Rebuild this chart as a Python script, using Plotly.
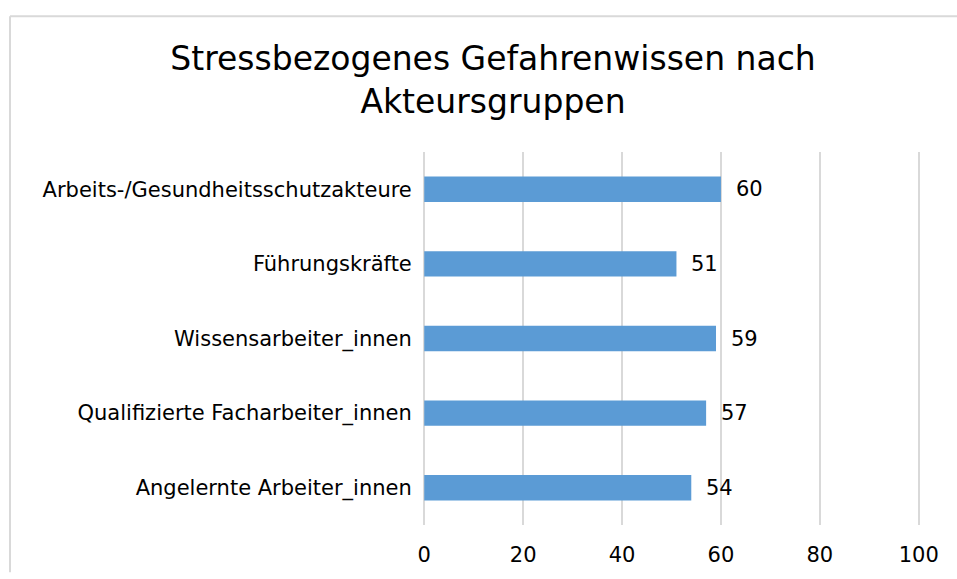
import plotly.graph_objects as go

categories = [
    "Angelernte Arbeiter_innen",
    "Qualifizierte Facharbeiter_innen",
    "Wissensarbeiter_innen",
    "Führungskräfte",
    "Arbeits-/Gesundheitsschutzakteure",
]
values = [54, 57, 59, 51, 60]
x_ticks = [0, 20, 40, 60, 80, 100]
title_text = "Stressbezogenes Gefahrenwissen nach<br>Akteursgruppen"

W, H = 957, 579
ml, mr, mt, mb = 423, 37, 152, 48
pw, ph = W - ml - mr, H - mt - mb
FONT = "DejaVu Sans, Liberation Sans, Arial"

fig = go.Figure()
fig.add_trace(go.Bar(
    x=values, y=categories, orientation="h",
    marker=dict(color="#5B9BD5", line=dict(width=0)),
    width=0.34, hoverinfo="x+y",
))

for c, v in zip(categories, values):
    fig.add_annotation(x=v, y=c, text=str(v), showarrow=False,
                       xanchor="left", xshift=13,
                       font=dict(family=FONT, size=21, color="#000000"))

def px_x(p):
    return (p - ml) / pw

def px_y(p):
    return (H - mb - p) / ph

# chart-area frame (top and left edges visible in the crop)
border = dict(color="#d9d9d9", width=2)
fig.add_shape(type="line", xref="paper", yref="paper",
              x0=px_x(10), x1=px_x(W), y0=px_y(14), y1=px_y(14), line=border, layer="below")
fig.add_shape(type="line", xref="paper", yref="paper",
              x0=px_x(10), x1=px_x(10), y0=px_y(14), y1=px_y(H), line=border, layer="below")

fig.update_layout(
    width=W, height=H,
    margin=dict(l=ml, r=mr, t=mt, b=mb),
    paper_bgcolor="white", plot_bgcolor="white",
    showlegend=False,
    font=dict(family=FONT, size=21, color="#000000"),
    title=dict(text=title_text, x=493 / W, xanchor="center", xref="container",
               y=1 - 70 / H, yanchor="middle",
               font=dict(family=FONT, size=33, color="#000000")),
    xaxis=dict(range=[-0.25, 100.25], tickvals=x_ticks, showgrid=True, gridcolor="#d9d9d9", gridwidth=2,
               zeroline=False, showline=False, ticks="outside", ticklen=11, tickcolor="rgba(0,0,0,0)",
               tickfont=dict(size=21)),
    yaxis=dict(range=[-0.5, 4.5], showgrid=False, zeroline=False, showline=False,
               ticks="outside", ticklen=6, tickcolor="rgba(0,0,0,0)", tickfont=dict(size=21)),
)

fig.write_html("out.html", config={"displayModeBar": False},
               post_script="document.body.style.margin='0';document.body.style.overflow='hidden';")
